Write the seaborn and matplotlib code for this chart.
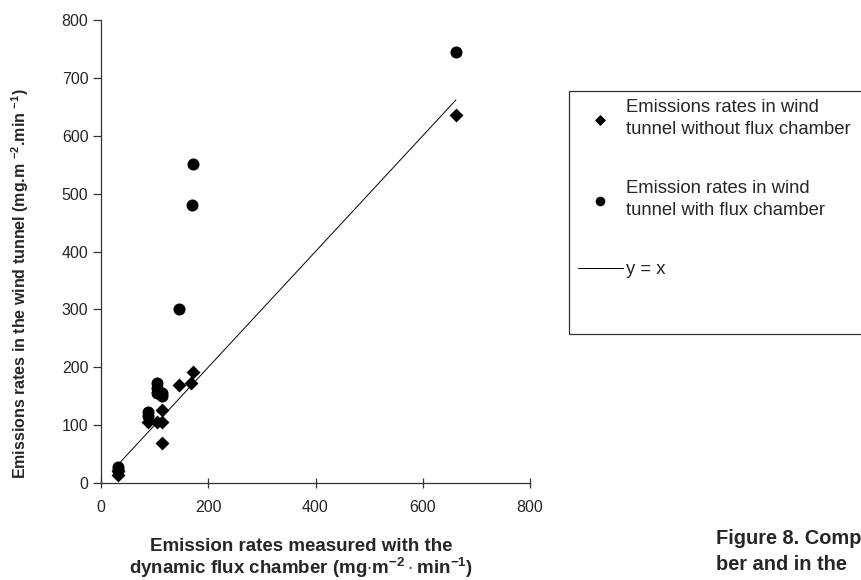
import matplotlib
matplotlib.use("Agg")
import matplotlib.pyplot as plt
import seaborn as sns
import pandas as pd
from matplotlib.patches import Rectangle

# Emission rates measured with the dynamic flux chamber (x) vs wind tunnel (y)
without_x = [32, 32, 88, 104, 114, 114, 114, 146, 168, 172, 662]
without_y = [14, 20, 105, 105, 105, 126, 69, 169, 173, 192, 635]

with_x = [32, 32, 88, 88, 104, 104, 104, 114, 114, 146, 170, 172, 662]
with_y = [22, 28, 115, 122, 155, 165, 172, 150, 155, 300, 480, 551, 745]

line_x = [32, 662]

sns.set_style("ticks")
plt.rcParams["font.family"] = ["Liberation Sans", "DejaVu Sans"]
plt.rcParams["mathtext.fontset"] = "custom"
plt.rcParams["mathtext.bf"] = "Liberation Sans:bold"
plt.rcParams["mathtext.rm"] = "Liberation Sans"

df_without = pd.DataFrame({"x": without_x, "y": without_y})
df_with = pd.DataFrame({"x": with_x, "y": with_y})
df_line = pd.DataFrame({"x": line_x, "y": line_x})

fig = plt.figure(figsize=(8.61, 5.80), dpi=100)
ax = fig.add_axes([101 / 861, 1 - 483 / 580, 429 / 861, 463 / 580])

sns.scatterplot(data=df_without, x="x", y="y", marker="D", s=50, color="black",
                edgecolor="black", linewidth=0, ax=ax,
                label="Emissions rates in wind\ntunnel without flux chamber")
sns.scatterplot(data=df_with, x="x", y="y", marker="o", s=75, color="black",
                edgecolor="black", linewidth=0, ax=ax,
                label="Emission rates in wind\ntunnel with flux chamber")
sns.lineplot(data=df_line, x="x", y="y", color="black", linewidth=0.7, ax=ax,
             label="y = x")

ax.set_xlim(0, 800)
ax.set_ylim(0, 800)
ax.set_xticks([0, 200, 400, 600, 800])
ax.set_yticks(range(0, 801, 100))
sns.despine(ax=ax)
for side in ["left", "bottom"]:
    ax.spines[side].set_color("#333333")
    ax.spines[side].set_linewidth(0.9)
ax.tick_params(axis="y", direction="out", length=6, width=0.9, color="#333333",
               labelsize=11.5, pad=3)
ax.tick_params(axis="x", direction="inout", length=7, width=0.9, color="#333333",
               labelsize=11.5, pad=9)

ax.set_xlabel("Emission rates measured with the\n"
              r"dynamic flux chamber (mg$\cdot$m$\mathbf{^{-2}}\cdot$min$\mathbf{^{-1}}$)",
              fontsize=13.5, fontweight="bold", linespacing=1.05)
ax.xaxis.set_label_coords(0.466, -0.118)
ax.set_ylabel(r"Emissions rates in the wind tunnel (mg.m $\mathbf{^{-2}}$.min $\mathbf{^{-1}}$)",
              fontsize=11.5, fontweight="bold")
ax.yaxis.set_label_coords(-0.163, 0.43)

leg = ax.legend(loc="upper left", bbox_to_anchor=(569 / 861, 1 - 90 / 580),
                bbox_transform=fig.transFigure, frameon=False, fontsize=13.3,
                labelspacing=2.3, handlelength=2.4, handletextpad=0.2,
                markerscale=0.8, borderpad=0)
for t in leg.get_texts():
    t.set_linespacing(1.35)

fig.patches.append(Rectangle((569 / 861, 1 - 334 / 580), 0.4, 243 / 580,
                             transform=fig.transFigure, fill=False,
                             edgecolor="#333333", linewidth=0.9))

fig.text(716 / 861, 1 - 538 / 580, "Figure 8. Comp", fontsize=14.4,
         fontweight="bold", va="center", ha="left")
fig.text(716 / 861, 1 - 565 / 580, "ber and in the", fontsize=14.4,
         fontweight="bold", va="center", ha="left")

fig.savefig("out.png", dpi=100)
